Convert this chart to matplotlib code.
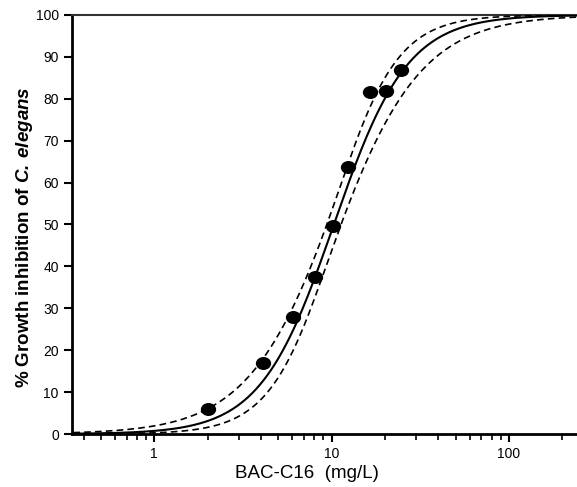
import numpy as np
import matplotlib
matplotlib.use("Agg")
import matplotlib.pyplot as plt
from matplotlib.path import Path
from matplotlib.transforms import Affine2D

conc = [2.0, 4.1, 6.1, 8.1, 10.2, 12.3, 16.4, 20.2, 24.5]
inhibition = [6.0, 16.9, 27.9, 37.5, 49.6, 63.7, 81.6, 81.9, 86.9]

# fitted dose-response (Hill) parameters
ec50 = 10.3
hill = 2.1
# confidence band half-width in logit space: sqrt(a^2 + b^2 (log x - c)^2)
band_a = 0.19
band_b = 0.95
band_c = 1.0

x_ticks = [1, 10, 100]
y_ticks = [0, 10, 20, 30, 40, 50, 60, 70, 80, 90, 100]

plt.rcParams['font.family'] = ['Liberation Sans', 'DejaVu Sans']
plt.rcParams['mathtext.fontset'] = 'custom'
plt.rcParams['mathtext.rm'] = 'Liberation Sans'
plt.rcParams['mathtext.it'] = 'Liberation Sans:italic'
plt.rcParams['mathtext.bf'] = 'Liberation Sans:bold'
plt.rcParams['mathtext.bfit'] = 'Liberation Sans:italic:bold'

fig = plt.figure(figsize=(5.77, 4.87), dpi=100)
ax = fig.add_axes([72 / 577, 1 - 434 / 487, 1 - 72 / 577, (434 - 15) / 487])

# curve and band from the fit parameters
logx = np.linspace(np.log10(0.35), np.log10(250), 400)
z = hill * np.log(10) * (logx - np.log10(ec50))
w = np.sqrt(band_a ** 2 + band_b ** 2 * (logx - band_c) ** 2)
xs = 10 ** logx
fit = 100 / (1 + np.exp(-z))
upper = 100 / (1 + np.exp(-(z + w)))
lower = 100 / (1 + np.exp(-(z - w)))

ax.plot(xs, fit, color='black', lw=1.5, zorder=3)
ax.plot(xs, upper, color='black', lw=1.2, ls=(0, (4, 2.5)), zorder=3)
ax.plot(xs, lower, color='black', lw=1.2, ls=(0, (4, 2.5)), zorder=3)

# slightly wide elliptical markers like the original
ellipse = Path.unit_circle().transformed(Affine2D().scale(1.2, 1.0))
ax.plot(conc, inhibition, ls='none', marker=ellipse, ms=10, color='black', zorder=4)

ax.set_xscale('log')
ax.set_xlim(0.344, 242)
ax.set_ylim(0, 100)
ax.set_xticks(x_ticks)
ax.set_xticklabels([str(t) for t in x_ticks])
ax.set_yticks(y_ticks)

ax.spines['right'].set_visible(False)
ax.spines['left'].set_linewidth(2)
ax.spines['bottom'].set_linewidth(2)
ax.spines['top'].set_linewidth(1.5)
ax.spines['top'].set_color('#333333')

ax.tick_params(axis='both', which='major', direction='out', length=6, width=1.5, labelsize=10)
ax.tick_params(axis='x', which='minor', direction='out', length=4, width=1.2)
ax.tick_params(axis='y', which='minor', left=False)

ax.set_ylabel('% Growth inhibition of $\\mathbfit{C.\\:elegans}$', fontsize=13.5, fontweight='bold')
ax.yaxis.set_label_coords(-0.073, 0.47)
ax.set_xlabel('BAC-C16  (mg/L)', fontsize=13.5)
ax.xaxis.set_label_coords(0.465, -0.074)

fig.savefig('out.png', dpi=100)
